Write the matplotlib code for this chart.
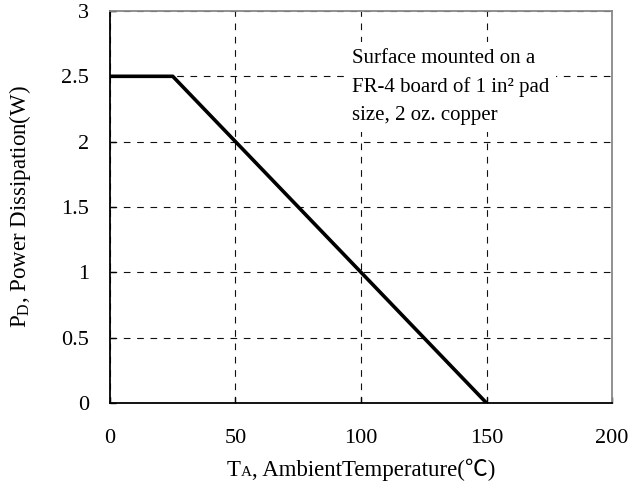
import matplotlib
matplotlib.use("Agg")
import matplotlib.pyplot as plt
from matplotlib.offsetbox import TextArea, HPacker, AnnotationBbox

plt.rcParams['font.family'] = ['Liberation Serif', 'Noto Sans CJK JP']
plt.rcParams['mathtext.fontset'] = 'custom'
plt.rcParams['mathtext.rm'] = 'Liberation Serif'

# derating curve
temp = [0, 25, 150]
power = [2.5, 2.5, 0]

x_ticks = [0, 50, 100, 150, 200]
y_ticks = [0, 0.5, 1, 1.5, 2, 2.5, 3]
y_tick_labels = ["0", "0.5", "1", "1.5", "2", "2.5", "3"]

note = "Surface mounted on a\nFR-4 board of 1 in\u00b2 pad\nsize, 2 oz. copper"

fig = plt.figure(figsize=(6.31, 4.90), dpi=100)
ax = fig.add_axes([0.1743, 0.1776, 0.7956, 0.800])

ax.plot(temp, power, color="black", lw=2.6, solid_capstyle="butt", zorder=3)

ax.set_xlim(0, 200)
ax.set_ylim(0, 3)
ax.set_xticks(x_ticks)
ax.set_yticks(y_ticks)
ax.set_yticklabels(y_tick_labels)
ax.tick_params(direction="in", length=4, width=1, labelsize=16, color="black")
ax.tick_params(axis="x", pad=19)
ax.tick_params(axis="y", pad=15)

ax.grid(True, color="#111111", linestyle=(0, (6, 6)), lw=0.8)

for s in ["left", "bottom"]:
    ax.spines[s].set_color("black")
    ax.spines[s].set_linewidth(1.3)
for s in ["top", "right"]:
    ax.spines[s].set_color("#888888")
    ax.spines[s].set_linewidth(1.3)

ax.set_ylabel(r"P$_{\mathrm{D}}$, Power Dissipation(W)", fontsize=16.5)
ax.yaxis.set_label_coords(-0.153, 0.5)

# x label: T with small A, built from pieces
parts = [
    TextArea("T", textprops=dict(fontsize=16.5)),
    TextArea("A", textprops=dict(fontsize=11)),
    TextArea(", AmbientTemperature(\u2103)", textprops=dict(fontsize=16.5)),
]
lbl = HPacker(children=parts, align="baseline", pad=0, sep=0)
ab = AnnotationBbox(lbl, (0.5, -0.171), xycoords="axes fraction",
                    box_alignment=(0.5, 0.5), frameon=False, annotation_clip=False)
ax.add_artist(ab)

ax.text(96.3, 2.71, note, fontsize=15, va="top", ha="left", linespacing=1.62,
        bbox=dict(facecolor="white", edgecolor="none", pad=5), zorder=4)

fig.savefig("out.png", dpi=100)
